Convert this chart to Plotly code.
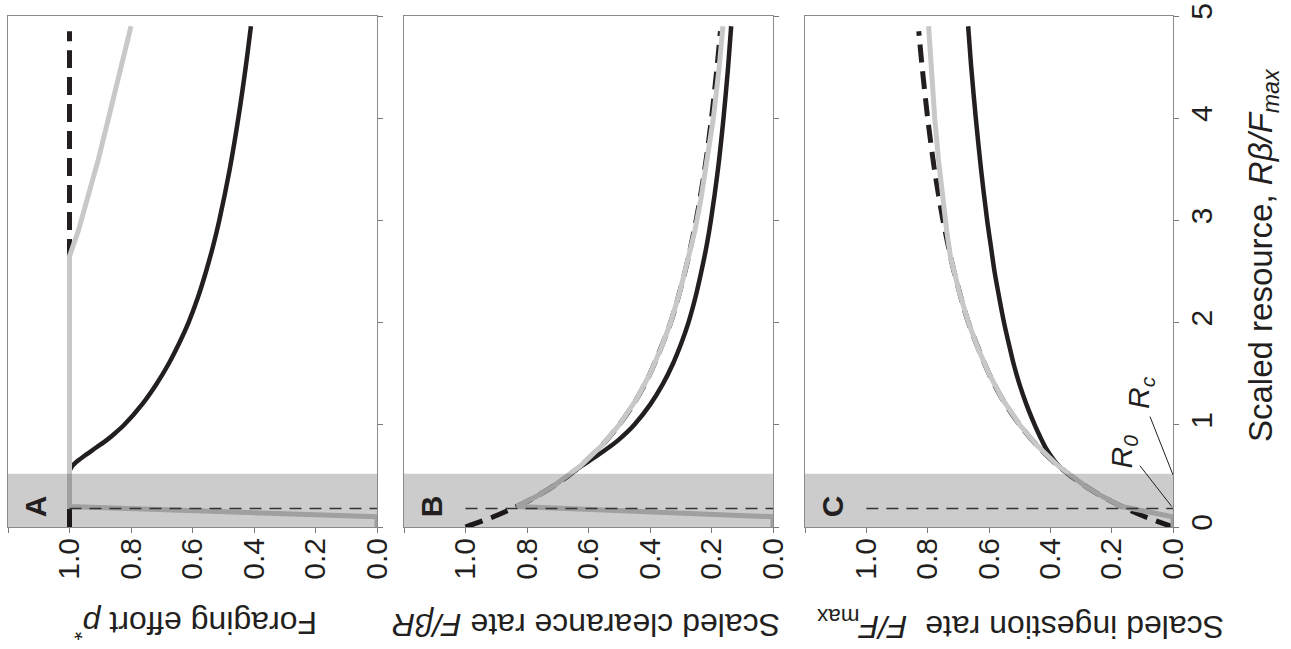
import plotly.graph_objects as go

# ---------------- data ----------------
# Resource axis values (scaled resource R*beta/Fmax)
R_fixed = [0, 0.1, 0.2, 0.3, 0.4, 0.5, 0.6, 0.8, 1.0, 1.25, 1.5, 2.0, 2.5, 3.0, 3.5, 4.0, 4.5, 4.85]
effort_fixed = [1.0, 1.0, 1.0, 1.0, 1.0, 1.0, 1.0, 1.0, 1.0, 1.0, 1.0, 1.0, 1.0, 1.0, 1.0, 1.0, 1.0, 1.0]
clear_fixed = [1.0, 0.909, 0.833, 0.769, 0.714, 0.667, 0.625, 0.556, 0.5, 0.444, 0.4, 0.333, 0.286, 0.25, 0.222, 0.2, 0.182, 0.171]
ingest_fixed = [0.0, 0.091, 0.167, 0.231, 0.286, 0.333, 0.375, 0.444, 0.5, 0.556, 0.6, 0.667, 0.714, 0.75, 0.778, 0.8, 0.818, 0.829]

R_opt = [0.55, 0.6, 0.65, 0.7, 0.78, 0.85, 0.92, 1.0, 1.2, 1.4, 1.6, 1.8, 2.0, 2.25, 2.5, 2.75, 3.0, 3.5, 4.0, 4.5, 4.9]
effort_opt = [1.0, 0.99, 0.972, 0.95, 0.912, 0.879, 0.851, 0.822, 0.764, 0.717, 0.677, 0.643, 0.613, 0.582, 0.556, 0.533, 0.513, 0.479, 0.451, 0.427, 0.41]
clear_opt = [0.645, 0.621, 0.596, 0.571, 0.533, 0.503, 0.477, 0.451, 0.399, 0.358, 0.325, 0.298, 0.275, 0.252, 0.233, 0.216, 0.202, 0.179, 0.161, 0.146, 0.136]
ingest_opt = [0.355, 0.373, 0.387, 0.399, 0.416, 0.428, 0.439, 0.451, 0.478, 0.501, 0.520, 0.536, 0.551, 0.567, 0.582, 0.594, 0.606, 0.626, 0.643, 0.658, 0.668]

R_sw = [0, 0.1, 0.2, 0.3, 0.4, 0.5, 0.6, 0.8, 1.0, 1.25, 1.5, 1.75, 2.0, 2.3, 2.65, 2.9, 3.2, 3.6, 4.0, 4.5, 4.9]
effort_sw = [0.0, 0.0, 1.0, 1.0, 1.0, 1.0, 1.0, 1.0, 1.0, 1.0, 1.0, 1.0, 1.0, 1.0, 1.0, 0.971, 0.942, 0.906, 0.873, 0.833, 0.80]
clear_sw = [0.0, 0.0, 0.833, 0.769, 0.714, 0.667, 0.625, 0.556, 0.5, 0.444, 0.4, 0.364, 0.333, 0.303, 0.274, 0.254, 0.235, 0.213, 0.194, 0.175, 0.163]
ingest_sw = [0.0, 0.0, 0.167, 0.231, 0.286, 0.333, 0.375, 0.444, 0.5, 0.556, 0.6, 0.636, 0.667, 0.697, 0.726, 0.738, 0.751, 0.765, 0.777, 0.789, 0.797]

R0 = 0.18
Rc = 0.52

value_ticks = [0, 0.2, 0.4, 0.6, 0.8, 1.0, 1.2]
value_ticktext = ["0.0", "0.2", "0.4", "0.6", "0.8", "1.0", ""]
res_ticks = [0, 1, 2, 3, 4, 5]
res_ticktext = ["0", "1", "2", "3", "4", "5"]

panel_letters = ["A", "B", "C"]
panel_titles = [
    "Foraging effort <i>p</i><sup>*</sup>",
    "Scaled clearance rate <i>F/βR</i>",
    "Scaled ingestion rate &nbsp;<i>F/F</i><sub>max</sub>",
]
x_title = "Scaled resource, <i>Rβ/F</i><sub><i>max</i></sub>"

# ---------------- figure ----------------
W, H = 1291, 649
FONT = "Liberation Sans, Arial, sans-serif"
TXT = "#231f20"
BLACK = "#231f20"
LGRAY = "#c8c8c8"

panels_px = [(8, 377), (404, 773), (805, 1173)]
top_px, bot_px = 16, 527

fig = go.Figure()

series = [
    (effort_fixed, effort_opt, effort_sw),
    (clear_fixed, clear_opt, clear_sw),
    (ingest_fixed, ingest_opt, ingest_sw),
]

for i, (fixed, opt, sw) in enumerate(series):
    xa = "x" if i == 0 else f"x{i+1}"
    ya = "y" if i == 0 else f"y{i+1}"
    fig.add_trace(go.Scatter(x=fixed, y=R_fixed, mode="lines", xaxis=xa, yaxis=ya,
                             line=dict(color=BLACK, width=5, dash="18px,9px", shape="spline", smoothing=0.8),
                             showlegend=False, hoverinfo="skip"))
    fig.add_trace(go.Scatter(x=opt, y=R_opt, mode="lines", xaxis=xa, yaxis=ya,
                             line=dict(color=BLACK, width=4.5, shape="spline", smoothing=0.8),
                             showlegend=False, hoverinfo="skip"))
    fig.add_trace(go.Scatter(x=sw, y=R_sw, mode="lines", xaxis=xa, yaxis=ya,
                             line=dict(color=LGRAY, width=5),
                             showlegend=False, hoverinfo="skip"))

layout = dict(
    width=W, height=H,
    margin=dict(l=0, r=0, t=0, b=0),
    paper_bgcolor="white", plot_bgcolor="white",
    font=dict(family=FONT, color=TXT),
    showlegend=False,
)

shapes = []
annotations = []
for i, (l, r) in enumerate(panels_px):
    sfx = "" if i == 0 else str(i + 1)
    layout["xaxis" + sfx] = dict(
        domain=[l / W, r / W], range=[1.2, 0], anchor="y" + sfx, automargin=False,
        tickmode="array", tickvals=value_ticks, ticktext=value_ticktext,
        tickangle=-90, ticks="outside", ticklen=5, tickcolor="#777", tickwidth=1,
        ticklabelstandoff=-7,
        showline=True, linecolor="#8a8a8a", linewidth=1, mirror=True,
        showgrid=False, zeroline=False,
        tickfont=dict(size=30, family=FONT, color=TXT),
    )
    layout["yaxis" + sfx] = dict(
        domain=[1 - bot_px / H, 1 - top_px / H], range=[0, 5], anchor="x" + sfx, automargin=False,
        side="right", tickmode="array", tickvals=res_ticks, ticktext=res_ticktext,
        tickangle=-90, ticks="outside", ticklen=5, tickcolor="#777", tickwidth=1,
        ticklabelstandoff=-3,
        showticklabels=(i == 2),
        showline=True, linecolor="#8a8a8a", linewidth=1, mirror=True,
        showgrid=False, zeroline=False,
        tickfont=dict(size=30, family=FONT, color=TXT),
    )
    xr, yr = "x" + sfx, "y" + sfx
    # shaded region R < Rc (translucent, drawn over the curves)
    shapes.append(dict(type="rect", xref=xr, yref=yr, x0=1.2, x1=0, y0=0, y1=Rc,
                       fillcolor="rgba(0,0,0,0.2)", line=dict(width=0), layer="above"))
    # R0 threshold
    shapes.append(dict(type="line", xref=xr, yref=yr, x0=1.0, x1=0, y0=R0, y1=R0,
                       line=dict(color="#333333", width=1.5, dash="12px,8px"), layer="above"))
    # panel letter
    annotations.append(dict(xref=xr, yref=yr, x=1.11, y=0.2, text=f"<b>{panel_letters[i]}</b>",
                            textangle=-90, showarrow=False,
                            font=dict(size=30, family=FONT, color=TXT)))

# R0 / Rc labels and leader lines in panel C
shapes.append(dict(type="line", xref="x3", yref="y3", x0=0.108, y0=0.60, x1=0.004, y1=0.20,
                   line=dict(color=TXT, width=1), layer="above"))
shapes.append(dict(type="line", xref="x3", yref="y3", x0=0.075, y0=1.08, x1=0.0, y1=0.51,
                   line=dict(color=TXT, width=1), layer="above"))
annotations.append(dict(xref="x3", yref="y3", x=0.163, y=0.74, text="<i>R</i><sub><i>0</i></sub>",
                        textangle=-90, showarrow=False, font=dict(size=30, family=FONT, color=TXT)))
annotations.append(dict(xref="x3", yref="y3", x=0.108, y=1.32, text="<i>R</i><sub><i>c</i></sub>",
                        textangle=-90, showarrow=False, font=dict(size=30, family=FONT, color=TXT)))

# axis titles (rotated as in the reference)
title_x_px = [196, 586, 1021]
for i, t in enumerate(panel_titles):
    annotations.append(dict(xref="paper", yref="paper", x=title_x_px[i] / W, y=1 - 625 / H,
                            text=t, textangle=180, showarrow=False,
                            xanchor="center", yanchor="middle",
                            font=dict(size=32, family=FONT, color=TXT)))
annotations.append(dict(xref="paper", yref="paper", x=1263 / W, y=1 - 255 / H,
                        text=x_title, textangle=-90, showarrow=False,
                        xanchor="center", yanchor="middle",
                        font=dict(size=33, family=FONT, color=TXT)))

layout["shapes"] = shapes
layout["annotations"] = annotations
fig.update_layout(**layout)

fig.write_html("out.html")
